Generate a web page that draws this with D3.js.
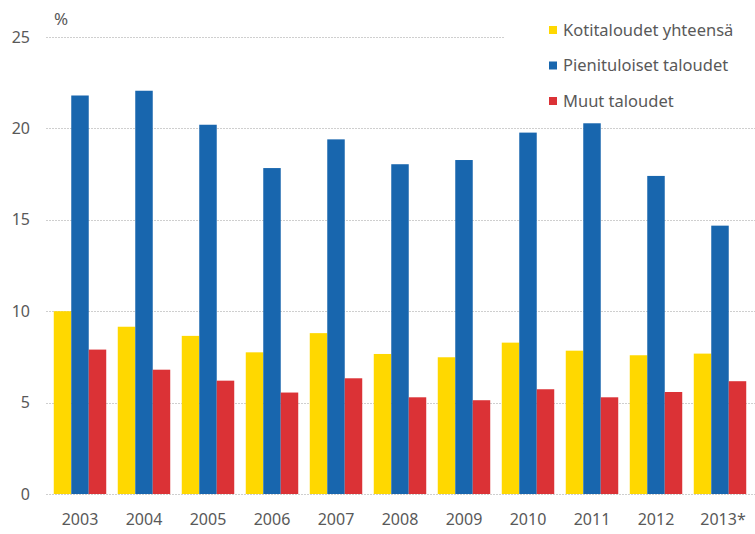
<!DOCTYPE html>
<html>
<head>
<meta charset="utf-8">
<script src="https://cdn.jsdelivr.net/npm/d3@7"></script>
<style>
  body { margin: 0; background: #fff; }
  svg { display: block; font-family: "Noto Sans", "Open Sans", sans-serif; }
</style>
</head>
<body>
<div id="content"></div>
<script>
const years = ["2003", "2004", "2005", "2006", "2007", "2008", "2009", "2010", "2011", "2012", "2013*"];
const seriesNames = ["Kotitaloudet yhteensä", "Pienituloiset taloudet", "Muut taloudet"];
const kotitaloudet = [10.0, 9.15, 8.65, 7.75, 8.8, 7.66, 7.48, 8.28, 7.84, 7.59, 7.68];
const pienituloiset = [21.8, 22.06, 20.2, 17.83, 19.4, 18.04, 18.27, 19.77, 20.28, 17.4, 14.68];
const muut = [7.9, 6.8, 6.2, 5.55, 6.33, 5.29, 5.13, 5.73, 5.29, 5.58, 6.17];
const yTicks = [0, 5, 10, 15, 20, 25];
const colors = ["#FFD800", "#1866AE", "#DB3236"];

const width = 755, height = 534;
const margin = {top: 37, right: 3, bottom: 40, left: 48};

const svg = d3.select("#content")
  .append("svg")
  .attr("width", width)
  .attr("height", height);

const x = d3.scaleBand()
  .domain(years)
  .range([margin.left, width - margin.right])
  .paddingInner(0.18)
  .paddingOuter(0.09);

const xSub = d3.scaleBand()
  .domain(seriesNames)
  .range([0, x.bandwidth()]);

const y = d3.scaleLinear()
  .domain([0, 25])
  .range([height - margin.bottom, margin.top]);

// gridlines
svg.append("g")
  .selectAll("line")
  .data(yTicks)
  .join("line")
    .attr("x1", 46)
    .attr("x2", d => d === 25 ? 505 : width)
    .attr("y1", d => Math.round(y(d)) + 0.5)
    .attr("y2", d => Math.round(y(d)) + 0.5)
    .attr("stroke", "#cfcfcf")
    .attr("stroke-dasharray", "2,1");

// y labels
svg.append("g")
  .selectAll("text")
  .data(yTicks)
  .join("text")
    .attr("x", 30)
    .attr("y", d => y(d))
    .attr("dy", "0.35em")
    .attr("text-anchor", "end")
    .attr("fill", "#595959")
    .style("font-size", "16px")
    .text(d => d);

svg.append("text")
  .attr("x", 54)
  .attr("y", 25)
  .attr("fill", "#595959")
  .style("font-size", "17px")
  .text("%");

// bars
const data = years.map((yr, i) => ({
  year: yr,
  values: [kotitaloudet[i], pienituloiset[i], muut[i]]
}));

const groups = svg.append("g")
  .selectAll("g")
  .data(data)
  .join("g")
    .attr("transform", d => `translate(${x(d.year)},0)`);

groups.selectAll("rect")
  .data(d => d.values.map((v, k) => ({name: seriesNames[k], value: v, k})))
  .join("rect")
    .attr("x", d => xSub(d.name))
    .attr("width", xSub.bandwidth())
    .attr("y", d => y(d.value))
    .attr("height", d => y(0) - y(d.value))
    .attr("fill", d => colors[d.k]);

// x labels
svg.append("g")
  .selectAll("text")
  .data(years)
  .join("text")
    .attr("x", d => x(d) + x.bandwidth() / 2 + (d.endsWith("*") ? 3 : 0))
    .attr("y", 525)
    .attr("text-anchor", "middle")
    .attr("fill", "#595959")
    .style("font-size", "16px")
    .text(d => d);

// legend
const legend = svg.append("g")
  .selectAll("g")
  .data(seriesNames)
  .join("g")
    .attr("transform", (d, i) => `translate(549,${30 + i * 35.5})`);

legend.append("rect")
  .attr("x", 0)
  .attr("y", -4)
  .attr("width", 8)
  .attr("height", 8)
  .attr("fill", (d, i) => colors[i]);

legend.append("text")
  .attr("x", 14)
  .attr("dy", "0.35em")
  .attr("fill", "#595959")
  .style("font-size", "16.5px")
  .text(d => d);
</script>
</body>
</html>
